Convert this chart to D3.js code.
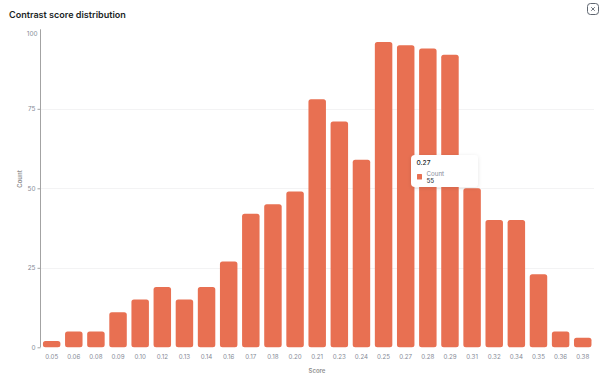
<!DOCTYPE html>
<html><head><meta charset="utf-8">
<script src="https://cdn.jsdelivr.net/npm/d3@7"></script>
<style>
html,body{margin:0;padding:0;background:#fff;overflow:hidden}
svg{display:block;font-family:Inter,sans-serif}
</style></head><body>
<svg id="c" width="601" height="377"></svg>
<script>
const scoreLabels=["0.05","0.06","0.08","0.09","0.10","0.12","0.13","0.14","0.16","0.17","0.18","0.20","0.21","0.23","0.24","0.25","0.27","0.28","0.29","0.31","0.32","0.34","0.35","0.36","0.38"];
const counts=[2,5,5,11,15,19,15,19,27,42,45,49,78,71,59,96,95,94,92,50,40,40,23,5,3];
const yTicks=[0,25,50,75,100];
const titleText="Contrast score distribution";
const xTitle="Score", yTitle="Count";
const tipCategory="0.27", tipSeries="Count", tipValue="55";

const svg=d3.select("#c");
const x=d3.scaleBand().domain(scoreLabels).range([40.6,593.8]).paddingInner(0.21).paddingOuter(0.105);
const y=d3.scaleLinear().domain([0,100]).range([347.3,29.3]);
const barColor="#e87052";

svg.append("text").attr("x",9).attr("y",18).attr("font-size",9.05).attr("font-weight",600).attr("fill","#1b1f26").text(titleText);

svg.append("g").selectAll("line").data(yTicks.filter(d=>d>0&&d<100)).join("line")
 .attr("x1",41).attr("x2",594).attr("y1",d=>Math.round(y(d))+.5).attr("y2",d=>Math.round(y(d))+.5)
 .attr("stroke","#f3f3f4");

svg.append("g").selectAll("path").data(counts).join("path")
 .attr("fill",barColor)
 .attr("d",(d,i)=>{const a=x(scoreLabels[i]),w=x.bandwidth(),t=y(d),b=y(0),r=Math.min(2.5,(b-t)/2);
  const p=d3.path();p.moveTo(a+r,t);p.lineTo(a+w-r,t);p.arcTo(a+w,t,a+w,t+r,r);p.lineTo(a+w,b-r);p.arcTo(a+w,b,a+w-r,b,r);p.lineTo(a+r,b);p.arcTo(a,b,a,b-r,r);p.lineTo(a,t+r);p.arcTo(a,t,a+r,t,r);p.closePath();return p.toString();});

const ya=svg.append("g").attr("transform","translate(40.5,0)").call(d3.axisLeft(y).tickValues(yTicks).tickSize(3).tickPadding(2));
ya.select(".domain").attr("stroke","#a3a3a3").attr("d",`M0,${y(100)}V${y(0)}`);
ya.selectAll(".tick line").attr("stroke","#a3a3a3");
ya.selectAll("text").attr("fill","#858a96").attr("font-size",6.4).attr("font-family","Inter,sans-serif");
ya.selectAll(".tick").filter(d=>d===100).select("text").attr("dy","0.9em").attr("y",0).attr("x",-3);
ya.selectAll(".tick").filter(d=>d===100).select("line").remove();

const xa=svg.append("g").attr("transform","translate(0,347.3)").call(d3.axisBottom(x).tickSize(0).tickPadding(7));
xa.select(".domain").remove();
xa.selectAll("text").attr("fill","#858a96").attr("font-size",6.2).attr("font-family","Inter,sans-serif");

svg.append("text").attr("x",317).attr("y",373).attr("text-anchor","middle").attr("font-size",6).attr("font-weight",600).attr("fill","#8f8f8f").text(xTitle);
svg.append("text").attr("transform","translate(21.5,179) rotate(-90)").attr("text-anchor","middle").attr("font-size",6).attr("font-weight",600).attr("fill","#8f8f8f").text(yTitle);

const defs=svg.append("defs");
const f=defs.append("filter").attr("id","sh").attr("x","-20%").attr("y","-30%").attr("width","140%").attr("height","160%");
f.append("feDropShadow").attr("dx",0).attr("dy",1).attr("stdDeviation",2).attr("flood-color","#000").attr("flood-opacity",0.1);
const tip=svg.append("g").attr("transform","translate(411,155)");
tip.append("rect").attr("width",67).attr("height",32).attr("rx",4).attr("fill","#fff").attr("filter","url(#sh)");
tip.append("text").attr("x",5.5).attr("y",10).attr("font-size",6.6).attr("font-weight",500).attr("fill","#1b1f26").text(tipCategory);
tip.append("rect").attr("x",6).attr("y",19).attr("width",5).attr("height",5.5).attr("rx",.5).attr("fill",barColor);
tip.append("text").attr("x",15.5).attr("y",20.5).attr("font-size",6.2).attr("fill","#858a96").text(tipSeries);
tip.append("text").attr("x",15.5).attr("y",27.5).attr("font-size",6.2).attr("font-weight",500).attr("fill","#3a3f48").text(tipValue);

const cl=svg.append("g").attr("transform","translate(587.5,3.5)");
cl.append("rect").attr("width",11).attr("height",11).attr("rx",3).attr("fill","#fff").attr("stroke","#5f6670").attr("stroke-width",1);
cl.append("path").attr("d","M3.7,3.7L7.3,7.3M7.3,3.7L3.7,7.3").attr("stroke","#5f6670").attr("stroke-width",.9);
</script>
</body></html>
